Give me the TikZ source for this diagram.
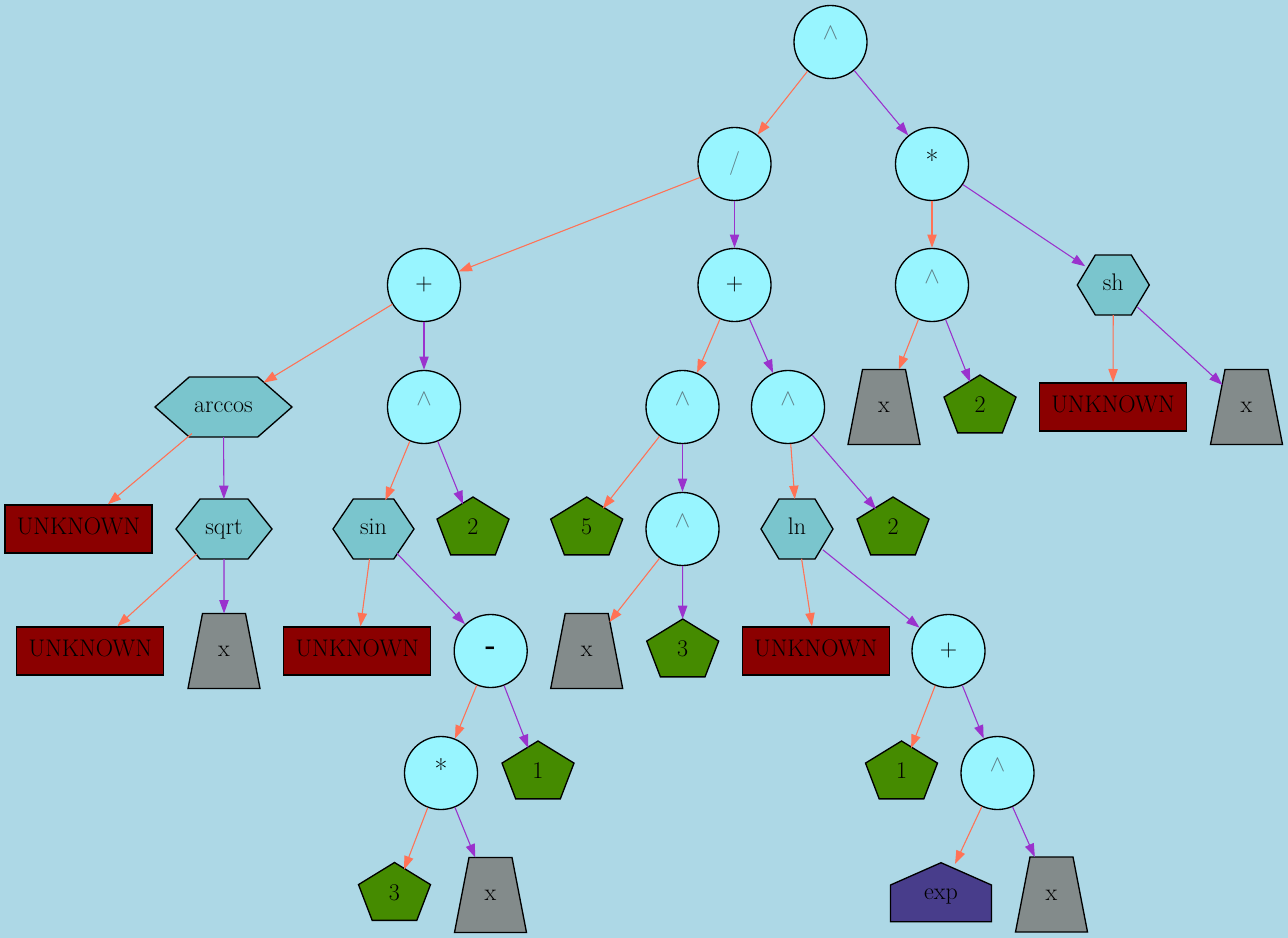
\documentclass[tikz,border=0pt]{standalone}
\usetikzlibrary{shapes.geometric,arrows.meta}
\definecolor{bgc}{HTML}{ADD8E6}
\definecolor{opc}{HTML}{98F5FF}
\definecolor{fnc}{HTML}{7AC5CD}
\definecolor{unkc}{HTML}{8B0000}
\definecolor{numc}{HTML}{458B00}
\definecolor{varc}{HTML}{838B8B}
\definecolor{expc}{HTML}{483D8B}
\definecolor{lc}{HTML}{FF7256}
\definecolor{rc}{HTML}{9A32CD}
\definecolor{caretc}{HTML}{5F7F87}
\newcommand\caret{\textcolor{caretc}{\smash{\raisebox{1.5pt}{$\wedge$}}}}
\newcommand\slashop{\textcolor{caretc}{/}}
\newcommand\starop{{\fontsize{21}{24}\selectfont\smash{\raisebox{-5.2pt}{*}}}}
\newcommand\minusop{{\fontsize{21}{24}\selectfont\bfseries -}}
\newcommand\Hex[5]{%
  \draw[shapeline,fill=fnc] ({#2-#4},#3) -- ({#2-#4/2},{#3-30}) -- ({#2+#4/2},{#3-30}) -- ({#2+#4},#3) -- ({#2+#4/2},{#3+30}) -- ({#2-#4/2},{#3+30}) -- cycle;
  \node[anch,lbl,ellipse,minimum width={2*#4*0.75pt},minimum height=45pt] (#1) at (#2,#3) {#5};}
\newcommand\Pent[4]{%
  \draw[shapeline,fill=numc] (#2,{#3-32}) -- ({#2+36},{#3-9.9}) -- ({#2+22.3},{#3+25.9}) -- ({#2-22.3},{#3+25.9}) -- ({#2-36},{#3-9.9}) -- cycle;
  \node[anch,lbl,regular polygon,regular polygon sides=5,minimum size=48pt] (#1) at (#2,#3) {#4};}
\newcommand\Trap[4]{%
  \draw[shapeline,fill=varc] ({#2-21.5},{#3-37.5}) -- ({#2+21.5},{#3-37.5}) -- ({#2+36},{#3+37.5}) -- ({#2-36},{#3+37.5}) -- cycle;
  \node[anch,lbl,trapezium,trapezium left angle=79,trapezium right angle=79,trapezium stretches=true,minimum width=54pt,minimum height=56.25pt] (#1) at (#2,#3) {#4};}
\newcommand\House[4]{%
  \draw[shapeline,fill=expc] (#2,{#3-31.3}) -- ({#2+50.5},{#3-9}) -- ({#2+50.5},{#3+27.7}) -- ({#2-50.5},{#3+27.7}) -- ({#2-50.5},{#3-9}) -- cycle;
  \node[anch,lbl,ellipse,minimum width=75.75pt,minimum height=46.95pt] (#1) at (#2,#3) {#4};}
\begin{document}
\begin{tikzpicture}[x=0.75pt,y=-0.75pt,
  every node/.style={font=\fontsize{18}{21}\selectfont,text=black},
  lbl/.style={text height=12.4pt,text depth=3.6pt},
  shapeline/.style={draw=black,line width=1pt},
  anch/.style={draw=none,inner sep=0pt,outer sep=0pt},
  op/.style={circle,draw=black,line width=1pt,fill=opc,minimum size=54.75pt,inner sep=0pt},
  unk/.style={rectangle,lbl,draw=black,line width=1pt,fill=unkc,minimum width=110.25pt,minimum height=36pt,inner sep=0pt},
  edge/.style={line width=0.8pt,-{Triangle[length=10pt,width=7pt]}},
  le/.style={edge,draw=lc,fill=lc},
  re/.style={edge,draw=rc,fill=rc}]
\fill[bgc] (0,0) rectangle (1288,938);
\useasboundingbox (0,0) rectangle (1288,938);
% row 0
\node[op] (r) at (830.5,42) {\caret};
% row 1
\node[op] (dv) at (734.5,164) {\slashop};
\node[op] (ml) at (932,164) {\starop};
% row 2
\node[op] (pl) at (424,285) {+};
\node[op] (pm) at (734.5,285) {+};
\node[op] (pr) at (932,285) {\caret};
\Hex{sh}{1113.3}{285}{36}{sh}
% row 3
\Hex{ac}{223.5}{407}{68.5}{arccos}
\node[op] (pa) at (424,407) {\caret};
\node[op] (pb) at (682.5,407) {\caret};
\node[op] (pc) at (788,407) {\caret};
\Trap{xr}{884}{407}{x}
\Pent{tr}{980}{407}{2}
\node[unk] (ua) at (1113,407) {UNKNOWN};
\Trap{xs}{1246.5}{407}{x}
% row 4
\node[unk] (ub) at (78.5,529) {UNKNOWN};
\Hex{sq}{224}{529}{48}{sqrt}
\Hex{sn}{373.5}{529}{40.5}{sin}
\Pent{ta}{473}{529}{2}
\Pent{fv}{586.7}{529}{5}
\node[op] (pd) at (682.5,529) {\caret};
\Hex{ln}{797}{529}{36}{ln}
\Pent{tc}{893}{529}{2}
% row 5
\node[unk] (uc) at (90.3,651) {UNKNOWN};
\Trap{xq}{224}{651}{x}
\node[unk] (ud) at (357.2,651) {UNKNOWN};
\node[op] (mn) at (490.7,651) {\minusop};
\Trap{xd}{586.7}{651}{x}
\Pent{th}{682.7}{651}{3}
\node[unk] (ue) at (815.8,651) {UNKNOWN};
\node[op] (pn) at (948.5,651) {+};
% row 6
\node[op] (sm) at (441,773) {\starop};
\Pent{on}{538}{773}{1}
\Pent{oo}{901.5}{773}{1}
\node[op] (pe) at (997.5,773) {\caret};
% row 7
\Pent{tm}{394.5}{894.5}{3}
\Trap{xm}{490.5}{895}{x}
\House{ex}{941}{894}{exp}
\Trap{xe}{1051.5}{894.5}{x}
% edges
\draw[le] (r) -- (dv);   \draw[re] (r) -- (ml);
\draw[le] (dv) -- (pl);  \draw[re] (dv) -- (pm);
\draw[le] (ml) -- (pr);  \draw[re] (ml) -- (sh);
\draw[le] (pl) -- (ac);  \draw[re] (pl) -- (pa);
\draw[le] (pm) -- (pb);  \draw[re] (pm) -- (pc);
\draw[le] (pr) -- (xr);  \draw[re] (pr) -- (tr);
\draw[le] (sh) -- (ua);  \draw[re] (sh) -- (xs);
\draw[le] (ac) -- (ub);  \draw[re] (ac) -- (sq);
\draw[le] (pa) -- (sn);  \draw[re] (pa) -- (ta);
\draw[le] (pb) -- (fv);  \draw[re] (pb) -- (pd);
\draw[le] (pc) -- (ln);  \draw[re] (pc) -- (tc);
\draw[le] (sq) -- (uc);  \draw[re] (sq) -- (xq);
\draw[le] (sn) -- (ud);  \draw[re] (sn) -- (mn);
\draw[le] (pd) -- (xd);  \draw[re] (pd) -- (th);
\draw[le] (ln) -- (ue);  \draw[re] (ln) -- (pn);
\draw[le] (mn) -- (sm);  \draw[re] (mn) -- (on);
\draw[le] (pn) -- (oo);  \draw[re] (pn) -- (pe);
\draw[le] (sm) -- (tm);  \draw[re] (sm) -- (xm);
\draw[le] (pe) -- (ex);  \draw[re] (pe) -- (xe);
\end{tikzpicture}
\end{document}
